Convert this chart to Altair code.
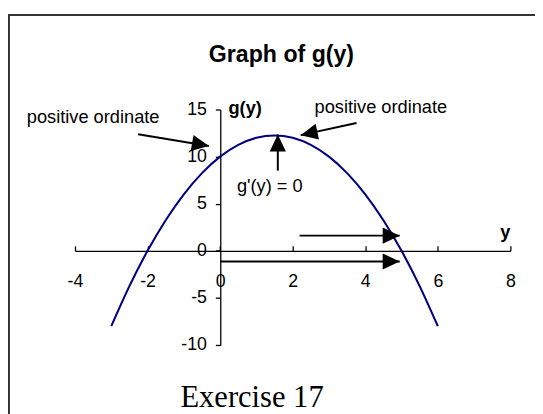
import altair as alt
import pandas as pd

# Curve g(y)
y_vals = [-3, -2.5, -2, -1.5, -1, -0.5, 0, 0.5, 1, 1.5, 2, 2.5, 3, 3.5, 4, 4.5, 5, 5.5, 6]
g_vals = [-8, -3.75, 0, 3.25, 6, 8.25, 10, 11.25, 12, 12.25, 12, 11.25, 10, 8.25, 6, 3.25, 0, -3.75, -8]

# Annotation arrows (data coordinates): start -> tip, and head direction (deg, clockwise from up)
arrow_x0 = [-2.26, 3.76, 1.59, 2.19, 0.0]
arrow_y0 = [12.38, 13.57, 8.51, 1.61, -1.14]
arrow_x1 = [-0.31, 2.22, 1.59, 4.95, 4.95]
arrow_y1 = [11.13, 12.28, 12.35, 1.61, -1.14]
arrow_angle = [100, 258, 0, 90, 90]

# Annotation texts
note_text = ["positive ordinate", "positive ordinate", "g'(y) = 0"]
note_x = [-3.5, 4.43, 1.37]
note_y = [13.54, 14.61, 6.24]

x_ticks = [-4, -2, 0, 2, 4, 6, 8]
y_ticks = [-10, -5, 0, 5, 10, 15]

FONT = "Liberation Sans"

curve_df = pd.DataFrame({"x": y_vals, "y": g_vals})
shaft_df = pd.DataFrame({"x": arrow_x0, "y": arrow_y0, "x2": arrow_x1, "y2": arrow_y1})
head_df = pd.DataFrame({"x": arrow_x1, "y": arrow_y1, "angle": arrow_angle})
note_df = pd.DataFrame({"x": note_x, "y": note_y, "t": note_text})

xs = alt.Scale(domain=[-4, 8], nice=False)
ys = alt.Scale(domain=[-10, 15], nice=False)

xa = alt.Axis(orient="top", offset=-143.4, values=x_ticks, labelExpr="toString(datum.value)",
              tickSize=5, labelBaseline="top", labelPadding=-27.6, labelFontSize=18,
              labelFont=FONT, labelColor="black", domainColor="black", tickColor="black",
              domainWidth=1.3, tickWidth=1.3, grid=False, labelFlush=False, labelOverlap=False)
ya = alt.Axis(orient="left", offset=-147.5, values=y_ticks, labelExpr="toString(datum.value)",
              tickSize=5, labelPadding=9, labelFontSize=18, labelFont=FONT,
              labelColor="black", domainColor="black", tickColor="black",
              domainWidth=1.3, tickWidth=1.3, grid=False, labelFlush=False, labelOverlap=False)


def X(f="x"):
    return alt.X(f"{f}:Q", scale=xs, axis=xa, title=None)


def Y(f="y"):
    return alt.Y(f"{f}:Q", scale=ys, axis=ya, title=None)


curve = alt.Chart(curve_df).mark_line(color="#000080", strokeWidth=2.1, interpolate="natural").encode(
    x=X(), y=Y()
)

shafts = alt.Chart(shaft_df).mark_rule(color="black", strokeWidth=2).encode(
    x=X(), y=Y(), x2="x2:Q", y2="y2:Q",
)

heads = alt.Chart(head_df).mark_point(
    shape="M0,0L-1,2.1L1,2.1Z", filled=True, size=270, color="black", opacity=1, strokeWidth=0
).encode(x=X(), y=Y(), angle=alt.Angle("angle:Q", scale=None))

notes = alt.Chart(note_df).mark_text(font=FONT, fontSize=18.5, color="black", align="center",
                                     baseline="alphabetic").encode(x=X(), y=Y(), text="t:N")

title_txt = alt.Chart(pd.DataFrame({"x": [1.69], "y": [20.1], "t": ["Graph of g(y)"]})).mark_text(
    font=FONT, fontSize=23.5, fontWeight="bold", color="black", align="center", baseline="alphabetic"
).encode(x=X(), y=Y(), text="t:N")

gy_label = alt.Chart(pd.DataFrame({"x": [0.23], "y": [14.55], "t": ["g(y)"]})).mark_text(
    font=FONT, fontSize=18.5, fontWeight="bold", color="black", align="left", baseline="alphabetic"
).encode(x=X(), y=Y(), text="t:N")

y_label = alt.Chart(pd.DataFrame({"x": [8.0], "y": [1.40], "t": ["y"]})).mark_text(
    font=FONT, fontSize=18.5, fontWeight="bold", color="black", align="right", baseline="alphabetic"
).encode(x=X(), y=Y(), text="t:N")

caption = alt.Chart(pd.DataFrame({"x": [0.88], "y": [-16.6], "t": ["Exercise 17"]})).mark_text(
    font="Liberation Serif", fontSize=31, color="black", align="center", baseline="alphabetic"
).encode(x=X(), y=Y(), text="t:N")

frame = alt.Chart(alt.Data(values=[{"a": 1}])).mark_rect(
    filled=False, stroke="#333333", strokeWidth=2
).encode(x=alt.value(-67), x2=alt.value(520), y=alt.value(-96), y2=alt.value(340))

chart = alt.layer(frame, curve, shafts, heads, notes, title_txt, gy_label, y_label, caption).properties(
    width=442, height=239,
    padding={"left": 68, "top": 100, "right": 25, "bottom": 67},
    autosize=alt.AutoSizeParams(type="none"),
    background="white",
).configure_view(stroke=None)

chart.save("out.html", embed_options={"renderer": "svg", "actions": False})
